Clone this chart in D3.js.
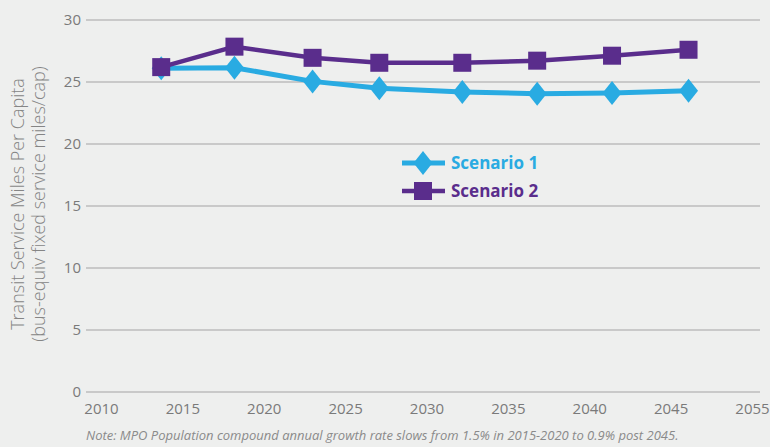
<!DOCTYPE html>
<html>
<head>
<meta charset="utf-8">
<script src="https://cdn.jsdelivr.net/npm/d3@7"></script>
<style>
  body { margin: 0; background: #eeefee; }
  svg { display: block; font-family: "Open Sans", sans-serif; }
</style>
</head>
<body>
<div id="chart"></div>
<script>
// data
var years = [2013.7, 2018.2, 2023.0, 2027.1, 2032.2, 2036.8, 2041.4, 2046.1];
var scenario1 = [26.1, 26.15, 25.05, 24.5, 24.2, 24.05, 24.12, 24.3];
var scenario2 = [26.2, 27.85, 26.95, 26.55, 26.55, 26.72, 27.12, 27.6];
// the chart labels its last (2050) gridpoint as 2055
var xTickPos = [2010, 2015, 2020, 2025, 2030, 2035, 2040, 2045, 2050];
var xTickLabels = ["2010", "2015", "2020", "2025", "2030", "2035", "2040", "2045", "2055"];
var yTicks = [0, 5, 10, 15, 20, 25, 30];
var seriesNames = ["Scenario 1", "Scenario 2"];

var width = 770, height = 447;
var blue = "#29abe2", purple = "#5a2d8c";

var svg = d3.select("#chart").append("svg")
  .attr("width", width)
  .attr("height", height);

svg.append("rect").attr("width", width).attr("height", height).attr("fill", "#eeefee");

var x = d3.scaleLinear().domain([2010, 2050]).range([101, 752]);
var y = d3.scaleLinear().domain([0, 30]).range([392, 20]);

// gridlines
svg.append("g")
  .selectAll("line")
  .data(yTicks).enter()
  .append("line")
  .attr("x1", 86).attr("x2", 760)
  .attr("y1", d => y(d)).attr("y2", d => y(d))
  .attr("stroke", "#bcbcbc")
  .attr("stroke-width", 1.5);

// y axis labels
var yAxis = d3.axisLeft(y).tickValues(yTicks).tickSize(0).tickPadding(0);
var gy = svg.append("g").attr("transform", "translate(81,0)").call(yAxis);
gy.select(".domain").remove();
gy.selectAll("text")
  .attr("fill", "#7a7a7a")
  .style("font-size", "15px")
  .style("font-family", "Open Sans, sans-serif");

// x axis labels
var xAxis = d3.axisBottom(x).tickValues(xTickPos)
  .tickFormat((d, i) => xTickLabels[i]).tickSize(0).tickPadding(0);
var gx = svg.append("g").attr("transform", "translate(0,403)").call(xAxis);
gx.select(".domain").remove();
gx.selectAll("text")
  .attr("fill", "#7a7a7a")
  .style("font-size", "15px")
  .style("font-family", "Open Sans, sans-serif");

// y title
var title = svg.append("text")
  .attr("transform", "translate(0,204) rotate(-90)")
  .attr("text-anchor", "middle")
  .attr("fill", "#858585")
  .style("font-size", "18px")
  .style("font-weight", 300);
title.append("tspan").attr("x", 0).attr("y", 24).text("Transit Service Miles Per Capita");
title.append("tspan").attr("x", 0).attr("y", 45).text("(bus-equiv fixed service miles/cap)");

var line = d3.line()
  .x(d => x(d[0]))
  .y(d => y(d[1]));

var pts1 = years.map((yr, i) => [yr, scenario1[i]]);
var pts2 = years.map((yr, i) => [yr, scenario2[i]]);

function diamond(g, cx, cy, w, h, color) {
  g.append("path")
    .attr("d", `M${cx},${cy - h / 2}L${cx + w / 2},${cy}L${cx},${cy + h / 2}L${cx - w / 2},${cy}Z`)
    .attr("fill", color);
}

// scenario 1
svg.append("path")
  .datum(pts1)
  .attr("d", line)
  .attr("fill", "none")
  .attr("stroke", blue)
  .attr("stroke-width", 5)
  .attr("stroke-linejoin", "round");
var g1 = svg.append("g");
pts1.forEach(p => diamond(g1, x(p[0]), y(p[1]), 19, 24, blue));

// scenario 2
svg.append("path")
  .datum(pts2)
  .attr("d", line)
  .attr("fill", "none")
  .attr("stroke", purple)
  .attr("stroke-width", 4.5)
  .attr("stroke-linejoin", "round");
svg.append("g")
  .selectAll("rect")
  .data(pts2).enter()
  .append("rect")
  .attr("x", d => x(d[0]) - 9)
  .attr("y", d => y(d[1]) - 9)
  .attr("width", 18).attr("height", 18)
  .attr("fill", purple);

// legend
var legend = svg.append("g");
[blue, purple].forEach((c, i) => {
  var ly = 163 + i * 28;
  legend.append("line")
    .attr("x1", 402).attr("x2", 445)
    .attr("y1", ly).attr("y2", ly)
    .attr("stroke", c).attr("stroke-width", i == 0 ? 5 : 4.5);
  if (i == 0) diamond(legend, 423, ly, 19, 24, c);
  else legend.append("rect").attr("x", 414).attr("y", ly - 9).attr("width", 18).attr("height", 18).attr("fill", c);
  legend.append("text")
    .attr("x", 451).attr("y", ly)
    .attr("dy", "0.36em")
    .attr("fill", c)
    .style("font-size", "17px")
    .style("font-weight", 700)
    .text(seriesNames[i]);
});

// note
svg.append("text")
  .attr("x", 86).attr("y", 440)
  .attr("fill", "#8a8a8a")
  .style("font-size", "13px")
  .style("font-style", "italic")
  .text("Note: MPO Population compound annual growth rate slows from 1.5% in 2015-2020 to 0.9% post 2045.");
</script>
</body>
</html>
